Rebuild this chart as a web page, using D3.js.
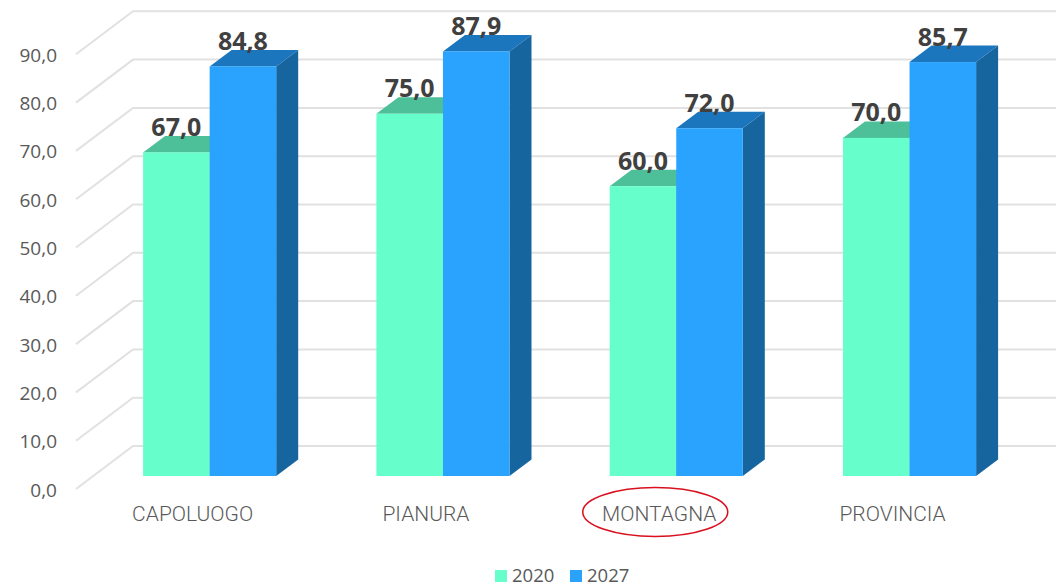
<!DOCTYPE html>
<html>
<head>
<meta charset="utf-8">
<script src="https://cdn.jsdelivr.net/npm/d3@7"></script>
<style>
  html, body { margin: 0; background: #fff; overflow: hidden; }
  svg { display: block; }
  .axis .domain { display: none; }
</style>
</head>
<body>
<figure id="chart" style="margin:0"></figure>
<script>
const categories = ["CAPOLUOGO", "PIANURA", "MONTAGNA", "PROVINCIA"];
const years = ["2020", "2027"];
const values2020 = [67.0, 75.0, 60.0, 70.0];
const values2027 = [84.8, 87.9, 72.0, 85.7];
const highlighted = "MONTAGNA";

const width = 1056;
const height = 587;
const frontColors = ["#66ffcc", "#2aa3ff"];
const topColors = ["#4dbf99", "#1b76be"];
const sideColors = ["#4dbf99", "#17659e"];

const svg = d3.select("figure#chart").append("svg")
  .attr("width", width)
  .attr("height", height)
  .attr("viewBox", `0 0 ${width} ${height}`);

// front plane of the floor, everything else is shifted back from it
const axisX = 76;
const x = d3.scaleBand().domain(categories).range([76, 1009.2]);
const series = d3.scaleBand().domain(years)
  .range([0, x.bandwidth()]).paddingOuter(0.7527);
const y = d3.scaleLinear().domain([0, 90]).range([489, 54.3]);

const wall = { dx: 57, dy: -43 };
const barFront = { dx: 17, dy: -13 };
const barBack = { dx: 39, dy: -29.5 };

const line = d3.line();

// gridlines: floor/side diagonal, then along the back wall
svg.append("g")
  .selectAll("path")
  .data(y.ticks(9))
  .join("path")
  .attr("d", d => line([
    [axisX, y(d)],
    [axisX + wall.dx, y(d) + wall.dy],
    [width, y(d) + wall.dy]
  ]))
  .attr("fill", "none")
  .attr("stroke", "#e1e1e1")
  .attr("stroke-width", 2);

const seriesData = [values2020, values2027];

function drawBar(g, cat, v, s) {
  const i = years.indexOf(s);
  const x0 = x(cat) + series(s) + barFront.dx;
  const x1 = x0 + series.bandwidth();
  const yBase = y(0) + barFront.dy;
  const yTop = y(v) + barFront.dy;
  const ddx = barBack.dx - barFront.dx;
  const ddy = barBack.dy - barFront.dy;

  g.append("path")
    .attr("d", line([[x0, yTop], [x1, yTop], [x1 + ddx, yTop + ddy], [x0 + ddx, yTop + ddy]]) + "Z")
    .attr("fill", topColors[i]);
  g.append("path")
    .attr("d", line([[x1, yBase], [x1, yTop], [x1 + ddx, yTop + ddy], [x1 + ddx, yBase + ddy]]) + "Z")
    .attr("fill", sideColors[i]);
  g.append("rect")
    .attr("x", x0)
    .attr("y", yTop)
    .attr("width", x1 - x0)
    .attr("height", yBase - yTop)
    .attr("fill", frontColors[i]);
}

const bars = svg.append("g");
categories.forEach((cat, c) => {
  years.forEach((s, i) => drawBar(bars, cat, seriesData[i][c], s));
});

const fmt = v => d3.format(".1f")(v).replace(".", ",");

// value labels sit on the back edge of each bar top
const labels = svg.append("g")
  .attr("font-family", "'Open Sans', sans-serif")
  .attr("font-weight", 700)
  .attr("font-size", 25)
  .attr("fill", "#404040")
  .attr("text-anchor", "middle");
categories.forEach((cat, c) => {
  years.forEach((s, i) => {
    const v = seriesData[i][c];
    labels.append("text")
      .attr("x", x(cat) + series(s) + series.bandwidth() / 2 + barFront.dx)
      .attr("y", y(v) + barBack.dy)
      .text(fmt(v));
  });
});

const yAxis = svg.append("g")
  .attr("class", "axis")
  .attr("transform", `translate(${axisX},0)`)
  .call(d3.axisLeft(y).ticks(9).tickSize(0).tickPadding(19).tickFormat(fmt));
yAxis.selectAll(".tick text")
  .attr("font-family", "'Open Sans', sans-serif")
  .attr("font-size", 19)
  .attr("dy", "0.37em")
  .attr("fill", "#595959");

const xAxis = svg.append("g")
  .attr("class", "axis")
  .attr("transform", `translate(0,${y(0)})`)
  .call(d3.axisBottom(x).tickSize(0).tickPadding(17));
xAxis.selectAll(".tick text")
  .attr("font-family", "Roboto, sans-serif")
  .attr("font-weight", 300)
  .attr("font-size", 21)
  .attr("fill", "#595959");

// red circle drawn by hand around the highlighted category
svg.append("ellipse")
  .attr("cx", x(highlighted) + x.bandwidth() / 2 - 4)
  .attr("cy", y(0) + 23)
  .attr("rx", 72.5)
  .attr("ry", 24.5)
  .attr("fill", "none")
  .attr("stroke", "#d9101e")
  .attr("stroke-width", 1.5);

// legend
const legend = svg.append("g")
  .attr("font-family", "'Open Sans', sans-serif")
  .attr("font-size", 18.5)
  .attr("fill", "#595959");
const legendX = d3.scalePoint().domain(years).range([495, 570]);
years.forEach((s, i) => {
  legend.append("rect")
    .attr("x", legendX(s))
    .attr("y", 570)
    .attr("width", 12)
    .attr("height", 12)
    .attr("fill", frontColors[i]);
  legend.append("text")
    .attr("x", legendX(s) + 17)
    .attr("y", 581.5)
    .text(s);
});
</script>
</body>
</html>
